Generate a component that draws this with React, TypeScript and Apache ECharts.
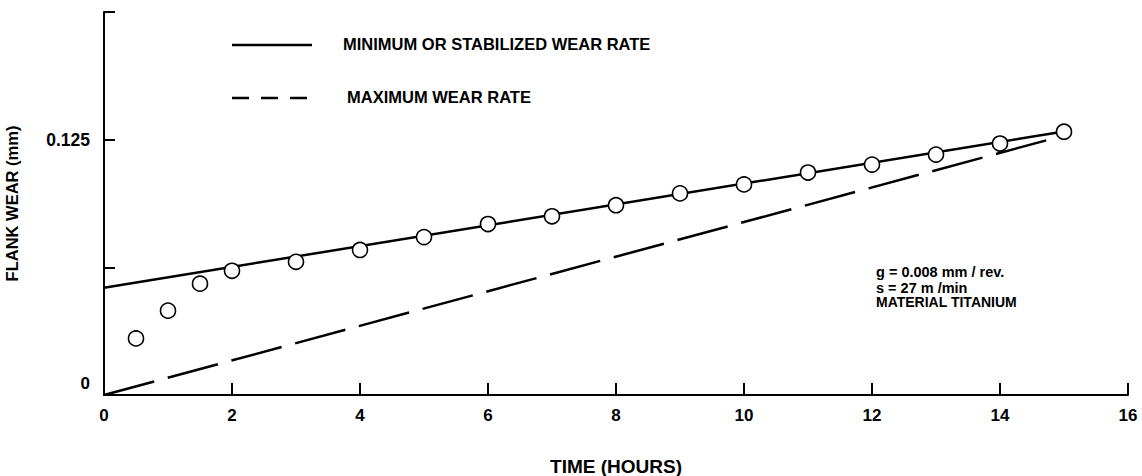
import React, { useEffect, useRef } from "react";
import * as echarts from "echarts";

const xTicks = [0, 2, 4, 6, 8, 10, 12, 14, 16];
const yLabelValues = [0, 0.125];
const minRateHours = [0, 15];
const minRateWear = [0.0525, 0.129];
const maxRateHours = [0, 15];
const maxRateWear = [0, 0.127];
const obsHours = [0.5, 1, 1.5, 2, 3, 4, 5, 6, 7, 8, 9, 10, 11, 12, 13, 14, 15];
const obsWear = [0.0277, 0.0413, 0.0545, 0.0608, 0.0652, 0.071, 0.0773, 0.0837, 0.0875, 0.0929, 0.0987, 0.1031, 0.1089, 0.1128, 0.1177, 0.1231, 0.1289];
const legendNames = ["MINIMUM OR STABILIZED WEAR RATE", "MAXIMUM WEAR RATE"];
const noteLines = ["g = 0.008 mm / rev.", "s = 27 m /min", "MATERIAL TITANIUM"];

const FONT = "'Liberation Sans', Arial, sans-serif";

export default function App() {
  const ref = useRef<HTMLDivElement>(null);
  useEffect(() => {
    if (!ref.current) return;
    const chart = echarts.init(ref.current, null, { renderer: "svg" });
    chart.setOption({
      animation: false,
      backgroundColor: "#fff",
      grid: { left: 104, right: 14, top: 12, bottom: 81, containLabel: false, outerBoundsMode: "none" },
      xAxis: {
        type: "value",
        min: xTicks[0],
        max: xTicks[xTicks.length - 1],
        interval: 2,
        name: "TIME (HOURS)",
        nameLocation: "middle",
        nameGap: 62,
        nameTextStyle: { fontFamily: FONT, fontWeight: "bold", fontSize: 19, color: "#000" },
        axisLine: { lineStyle: { color: "#000", width: 2 } },
        axisTick: { inside: true, length: 12, lineStyle: { color: "#000", width: 2 } },
        axisLabel: { fontFamily: FONT, fontWeight: "bold", fontSize: 17, color: "#000", margin: 12 },
        splitLine: { show: false },
      },
      yAxis: {
        type: "value",
        min: 0,
        max: 0.1875,
        interval: 0.0625,
        name: "FLANK WEAR (mm)",
        nameLocation: "middle",
        nameGap: 84,
        nameRotate: 90,
        nameTextStyle: { fontFamily: FONT, fontWeight: "bold", fontSize: 16.5, color: "#000" },
        axisLine: { lineStyle: { color: "#000", width: 2 } },
        axisTick: { inside: true, length: 11, lineStyle: { color: "#000", width: 2 } },
        axisLabel: {
          fontFamily: FONT,
          fontWeight: "bold",
          fontSize: 17.5,
          color: "#000",
          margin: 14,
          formatter: (v: number) => {
            if (Math.abs(v - yLabelValues[0]) < 1e-9) return "{z|0}";
            if (Math.abs(v - yLabelValues[1]) < 1e-9) return "0.125";
            return "";
          },
          rich: {
            z: { fontFamily: FONT, fontWeight: "bold", fontSize: 17, color: "#000", padding: [0, 0, 24, 0] },
          },
        },
        splitLine: { show: false },
      },
      series: [
        {
          name: legendNames[0],
          type: "line",
          data: minRateHours.map((h, i) => [h, minRateWear[i]]),
          symbol: "none",
          lineStyle: { color: "#000", width: 2.5 },
          z: 2,
        },
        {
          name: legendNames[1],
          type: "line",
          data: maxRateHours.map((h, i) => [h, maxRateWear[i]]),
          symbol: "none",
          lineStyle: { color: "#000", width: 2.5, type: [52, 14] },
          z: 2,
        },
        {
          name: "Observed",
          type: "scatter",
          data: obsHours.map((h, i) => [h, obsWear[i]]),
          symbol: "circle",
          symbolSize: 15,
          itemStyle: { color: "#fff", borderColor: "#000", borderWidth: 1.6, opacity: 1 },
          z: 5,
        },
      ],
      graphic: [
        { type: "line", shape: { x1: 232, y1: 45, x2: 312, y2: 45 }, style: { stroke: "#000", lineWidth: 2.5 } },
        { type: "text", x: 343, y: 44, style: { text: legendNames[0], font: `bold 16.5px ${FONT}`, fill: "#000", verticalAlign: "middle" } },
        { type: "line", shape: { x1: 232, y1: 98, x2: 312, y2: 98 }, style: { stroke: "#000", lineWidth: 2.5, lineDash: [17, 12] } },
        { type: "text", x: 347, y: 97, style: { text: legendNames[1], font: `bold 16.5px ${FONT}`, fill: "#000", verticalAlign: "middle" } },
        { type: "text", x: 876, y: 272, style: { text: noteLines[0], font: `bold 14.5px ${FONT}`, fill: "#000", verticalAlign: "middle" } },
        { type: "text", x: 876, y: 288, style: { text: noteLines[1], font: `bold 14.5px ${FONT}`, fill: "#000", verticalAlign: "middle" } },
        { type: "text", x: 876, y: 302, style: { text: noteLines[2], font: `bold 14px ${FONT}`, fill: "#000", verticalAlign: "middle" } },
      ],
    });
    return () => chart.dispose();
  }, []);
  return <div ref={ref} style={{ position: "fixed", left: 0, top: 0, width: 1142, height: 476 }} />;
}
